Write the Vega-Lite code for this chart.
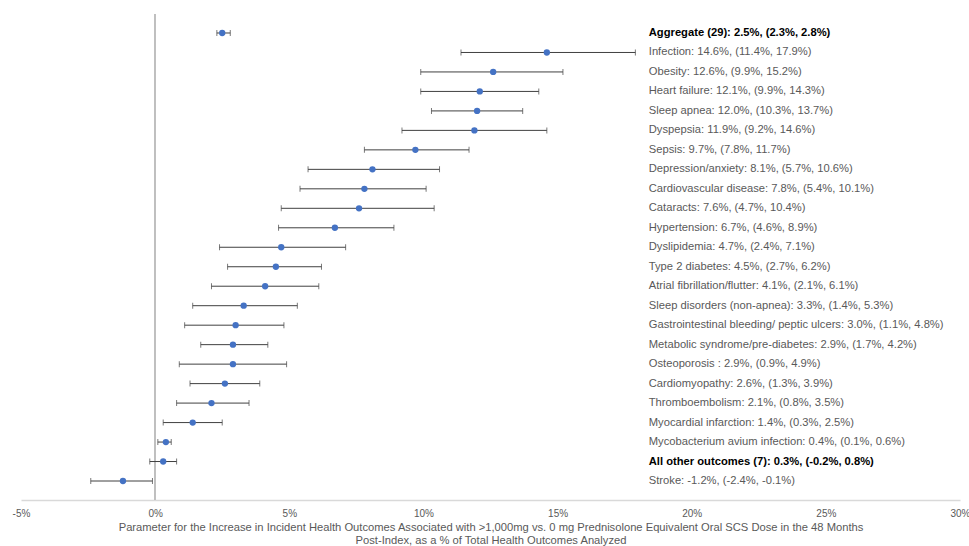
{
  "$schema": "https://vega.github.io/schema/vega-lite/v6.json",
  "width": 939,
  "height": 486,
  "autosize": "none",
  "padding": {"left": 21, "top": 14, "right": 9, "bottom": 46},
  "background": "white",
  "config": {"view": {"stroke": null}, "font": "Liberation Sans"},
  "data": {"values": [
    {"name": "Aggregate (29)", "group": "summary", "est": 2.5, "lo": 2.3, "hi": 2.8, "label": "Aggregate (29): 2.5%, (2.3%, 2.8%)"},
    {"name": "Infection", "group": "outcome", "est": 14.6, "lo": 11.4, "hi": 17.9, "label": "Infection: 14.6%, (11.4%, 17.9%)"},
    {"name": "Obesity", "group": "outcome", "est": 12.6, "lo": 9.9, "hi": 15.2, "label": "Obesity: 12.6%, (9.9%, 15.2%)"},
    {"name": "Heart failure", "group": "outcome", "est": 12.1, "lo": 9.9, "hi": 14.3, "label": "Heart failure: 12.1%, (9.9%, 14.3%)"},
    {"name": "Sleep apnea", "group": "outcome", "est": 12.0, "lo": 10.3, "hi": 13.7, "label": "Sleep apnea: 12.0%, (10.3%, 13.7%)"},
    {"name": "Dyspepsia", "group": "outcome", "est": 11.9, "lo": 9.2, "hi": 14.6, "label": "Dyspepsia: 11.9%, (9.2%, 14.6%)"},
    {"name": "Sepsis", "group": "outcome", "est": 9.7, "lo": 7.8, "hi": 11.7, "label": "Sepsis: 9.7%, (7.8%, 11.7%)"},
    {"name": "Depression/anxiety", "group": "outcome", "est": 8.1, "lo": 5.7, "hi": 10.6, "label": "Depression/anxiety: 8.1%, (5.7%, 10.6%)"},
    {"name": "Cardiovascular disease", "group": "outcome", "est": 7.8, "lo": 5.4, "hi": 10.1, "label": "Cardiovascular disease: 7.8%, (5.4%, 10.1%)"},
    {"name": "Cataracts", "group": "outcome", "est": 7.6, "lo": 4.7, "hi": 10.4, "label": "Cataracts: 7.6%, (4.7%, 10.4%)"},
    {"name": "Hypertension", "group": "outcome", "est": 6.7, "lo": 4.6, "hi": 8.9, "label": "Hypertension: 6.7%, (4.6%, 8.9%)"},
    {"name": "Dyslipidemia", "group": "outcome", "est": 4.7, "lo": 2.4, "hi": 7.1, "label": "Dyslipidemia: 4.7%, (2.4%, 7.1%)"},
    {"name": "Type 2 diabetes", "group": "outcome", "est": 4.5, "lo": 2.7, "hi": 6.2, "label": "Type 2 diabetes: 4.5%, (2.7%, 6.2%)"},
    {"name": "Atrial fibrillation/flutter", "group": "outcome", "est": 4.1, "lo": 2.1, "hi": 6.1, "label": "Atrial fibrillation/flutter: 4.1%, (2.1%, 6.1%)"},
    {"name": "Sleep disorders (non-apnea)", "group": "outcome", "est": 3.3, "lo": 1.4, "hi": 5.3, "label": "Sleep disorders (non-apnea): 3.3%, (1.4%, 5.3%)"},
    {"name": "Gastrointestinal bleeding/ peptic ulcers", "group": "outcome", "est": 3.0, "lo": 1.1, "hi": 4.8, "label": "Gastrointestinal bleeding/ peptic ulcers: 3.0%, (1.1%, 4.8%)"},
    {"name": "Metabolic syndrome/pre-diabetes", "group": "outcome", "est": 2.9, "lo": 1.7, "hi": 4.2, "label": "Metabolic syndrome/pre-diabetes: 2.9%, (1.7%, 4.2%)"},
    {"name": "Osteoporosis", "group": "outcome", "est": 2.9, "lo": 0.9, "hi": 4.9, "label": "Osteoporosis : 2.9%, (0.9%, 4.9%)"},
    {"name": "Cardiomyopathy", "group": "outcome", "est": 2.6, "lo": 1.3, "hi": 3.9, "label": "Cardiomyopathy: 2.6%, (1.3%, 3.9%)"},
    {"name": "Thromboembolism", "group": "outcome", "est": 2.1, "lo": 0.8, "hi": 3.5, "label": "Thromboembolism: 2.1%, (0.8%, 3.5%)"},
    {"name": "Myocardial infarction", "group": "outcome", "est": 1.4, "lo": 0.3, "hi": 2.5, "label": "Myocardial infarction: 1.4%, (0.3%, 2.5%)"},
    {"name": "Mycobacterium avium infection", "group": "outcome", "est": 0.4, "lo": 0.1, "hi": 0.6, "label": "Mycobacterium avium infection: 0.4%, (0.1%, 0.6%)"},
    {"name": "All other outcomes (7)", "group": "summary", "est": 0.3, "lo": -0.2, "hi": 0.8, "label": "All other outcomes (7): 0.3%, (-0.2%, 0.8%)"},
    {"name": "Stroke", "group": "outcome", "est": -1.2, "lo": -2.4, "hi": -0.1, "label": "Stroke: -1.2%, (-2.4%, -0.1%)"}
  ]},
  "encoding": {
    "y": {"field": "name", "type": "nominal", "sort": null, "scale": {"type": "point", "padding": 0.975}, "axis": null}
  },
  "layer": [
    {
      "mark": {"type": "rule", "color": "#bfbfbf", "strokeWidth": 1},
      "encoding": {"x": {"datum": 0, "type": "quantitative"}, "y": null}
    },
    {
      "mark": {"type": "errorbar", "ticks": {"size": 6, "color": "#404040", "strokeWidth": 1}, "rule": {"color": "#404040", "strokeWidth": 1}},
      "encoding": {
        "x": {"field": "lo", "type": "quantitative", "scale": {"domain": [-5, 30], "nice": false, "zero": false},
          "axis": {
            "values": [-5, 0, 5, 10, 15, 20, 25, 30],
            "labelExpr": "datum.value + '%'",
            "labelFlush": false,
            "grid": false, "ticks": false, "domainColor": "#d9d9d9", "domainWidth": 1.5,
            "labelColor": "#595959", "labelFontSize": 10, "labelPadding": 8,
            "title": ["Parameter for the Increase in Incident Health Outcomes Associated with >1,000mg vs. 0 mg Prednisolone Equivalent Oral SCS Dose in the 48 Months", "Post-Index, as a % of Total Health Outcomes Analyzed"],
            "titleColor": "#595959", "titleFontSize": 11.2, "titleFontWeight": "normal", "titlePadding": 3, "titleLineHeight": 13.5
          }},
        "x2": {"field": "hi"}
      }
    },
    {
      "mark": {"type": "point", "filled": true, "shape": "circle", "size": 40, "color": "#4472C4", "opacity": 1},
      "encoding": {"x": {"field": "est", "type": "quantitative"}}
    },
    {
      "transform": [{"filter": "datum.group !== 'summary'"}],
      "mark": {"type": "text", "align": "left", "baseline": "middle", "fontSize": 11.2, "color": "#595959"},
      "encoding": {
        "x": {"datum": 18.4, "type": "quantitative"},
        "text": {"field": "label"}
      }
    },
    {
      "transform": [{"filter": "datum.group === 'summary'"}],
      "mark": {"type": "text", "align": "left", "baseline": "middle", "fontSize": 11.2, "color": "#000000", "fontWeight": "bold"},
      "encoding": {
        "x": {"datum": 18.4, "type": "quantitative"},
        "text": {"field": "label"}
      }
    }
  ]
}
